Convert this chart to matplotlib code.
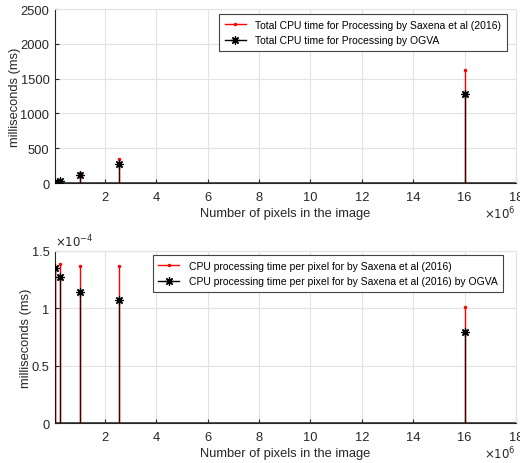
import matplotlib
matplotlib.use("Agg")
import matplotlib.pyplot as plt
import matplotlib.ticker as mticker
import numpy as np

plt.rcParams['font.family'] = ['Liberation Sans', 'DejaVu Sans']

pixels = [65536, 262144, 1048576, 2560000, 16000000]
total_saxena = [8.9, 36.4, 143.5, 348, 1619]
total_ogva = [8.9, 33.3, 120, 276, 1272]
pp_saxena = [1.36e-4, 1.39e-4, 1.367e-4, 1.367e-4, 1.013e-4]
pp_ogva = [1.352e-4, 1.271e-4, 1.144e-4, 1.077e-4, 0.796e-4]

leg_top = ['Total CPU time for Processing by Saxena et al (2016)',
           'Total CPU time for Processing by OGVA']
leg_bot = ['CPU processing time per pixel for by Saxena et al (2016)',
           'CPU processing time per pixel for by Saxena et al (2016) by OGVA']
xlabel = 'Number of pixels in the image'
ylabel = 'milliseconds (ms)'

dark = '#262626'
gridc = '#e3e3e3'
STAR = (8, 2, 0)

fig = plt.figure(figsize=(5.2, 4.64), dpi=100)
ax1 = fig.add_axes([0.1058, 0.6034, 0.8865, 0.375])
ax2 = fig.add_axes([0.1058, 0.0862, 0.8865, 0.3707])


def draw(ax, ys_red, ys_blk, ylim, yticks, ylabs, legs, anchor):
    ax.vlines(pixels, 0, ys_red, color='red', lw=1.0, zorder=3)
    ax.plot(pixels, ys_red, ls='none', marker='.', color='red', ms=3, zorder=4)
    ax.vlines(pixels, 0, ys_blk, color='black', lw=1.0, alpha=0.75, zorder=5)
    ax.plot(pixels, ys_blk, ls='none', marker=STAR, color='black', ms=6,
            zorder=6, markeredgewidth=0.9)
    ax.axhline(0, color='#333333', lw=1.2, zorder=2)
    ax.set_xlim(65536, 18e6)
    ax.set_ylim(*ylim)
    ax.set_xticks(np.arange(2e6, 18.1e6, 2e6))
    ax.xaxis.set_major_formatter(mticker.FuncFormatter(lambda v, p: f'{v/1e6:g}'))
    ax.set_yticks(yticks)
    ax.set_yticklabels(ylabs)
    ax.grid(True, color=gridc, lw=0.8, zorder=0)
    ax.set_axisbelow(True)
    for s in ['top', 'right']:
        ax.spines[s].set_color(gridc)
    for s in ['left', 'bottom']:
        ax.spines[s].set_color(dark)
        ax.spines[s].set_linewidth(0.8)
    ax.tick_params(direction='in', length=3, width=0.8, colors=dark,
                   labelsize=9.3, top=False, right=False, pad=4)
    ax.tick_params(axis='x', pad=5.5)
    ax.set_xlabel(xlabel, fontsize=9.3, color=dark, labelpad=3)
    ax.set_ylabel(ylabel, fontsize=9.3, color=dark, labelpad=-0.5)
    h1 = plt.Line2D([], [], color='red', lw=1.0, marker='.', ms=3,
                    markevery=[1])
    h2 = plt.Line2D([], [], color='black', lw=1.0, marker=STAR, ms=6,
                    markeredgewidth=0.9, markevery=[1])
    lg = ax.legend([h1, h2], legs, loc='upper right', bbox_to_anchor=anchor,
                   borderaxespad=0, fontsize=7.5, frameon=True,
                   fancybox=False, edgecolor='#444444', framealpha=1,
                   handlelength=2.0, borderpad=0.55, labelspacing=0.55,
                   handletextpad=0.9)
    lg.get_frame().set_linewidth(0.8)
    ax.text(1.0, -0.175, r'$\times10^{6}$', transform=ax.transAxes,
            ha='right', va='center', fontsize=8.5, color=dark)


draw(ax1, total_saxena, total_ogva, (0, 2500), [0, 500, 1000, 1500, 2000, 2500],
     ['0', '500', '1000', '1500', '2000', '2500'], leg_top, (0.98, 0.972))
draw(ax2, pp_saxena, pp_ogva, (0, 1.5e-4), [0, 0.5e-4, 1e-4, 1.5e-4],
     ['0', '0.5', '1', '1.5'], leg_bot, (0.972, 0.977))
ax2.text(0.0, 1.01, r'$\times10^{-4}$', transform=ax2.transAxes,
         ha='left', va='bottom', fontsize=8.5, color=dark)

fig.savefig('out.png', dpi=100)
